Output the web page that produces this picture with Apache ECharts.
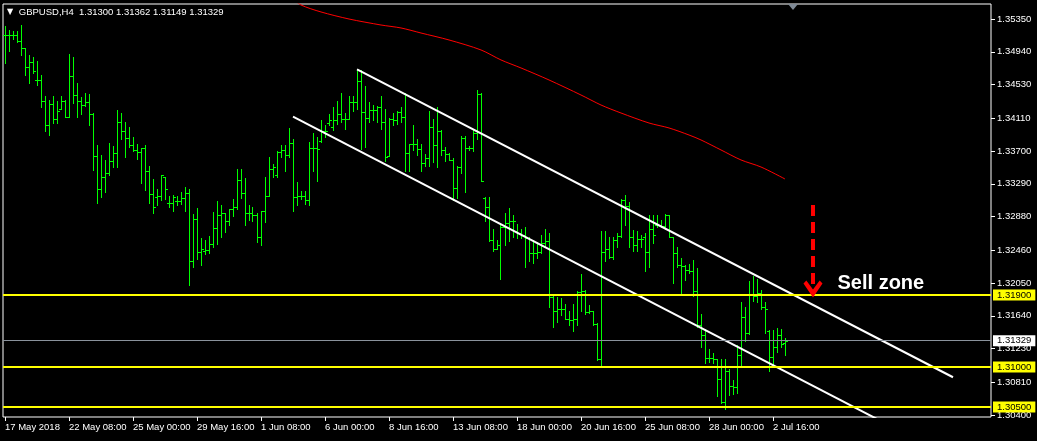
<!DOCTYPE html>
<html>
<head>
<meta charset="utf-8">
<script src="https://cdn.jsdelivr.net/npm/echarts@6/dist/echarts.min.js"></script>
<style>html,body{margin:0;padding:0;background:#000;}#chart{width:1037px;height:441px;}</style>
</head>
<body>
<div id="chart"></div>
<script>
// ---------- DATA ----------
const symbolTitle = 'GBPUSD,H4';
const lastQuote = ['1.31300', '1.31362', '1.31149', '1.31329'];

const barOpen = [
1.35146,1.35146,1.35146,1.35146,1.35071,1.34988,1.34746,1.34813,1.34588,1.34588,
1.34321,1.34021,1.34288,1.34096,1.34229,1.34321,1.34129,1.34638,1.34396,1.34321,
1.34271,1.34313,1.34163,1.33638,1.33221,1.33379,1.33421,1.33579,1.33679,1.34063,
1.33954,1.33863,1.33779,1.33713,1.33688,1.33738,1.33454,1.33163,1.33129,1.33138,
1.33370,1.33046,1.33046,1.33071,1.33071,1.33113,1.33171,1.32321,1.32846,1.32438,
1.32454,1.32463,1.32538,1.32738,1.32896,1.32921,1.32829,1.32971,1.33004,1.33338,
1.33171,1.32921,1.32921,1.32904,1.32621,1.32946,1.33138,1.33479,1.33396,1.33688,
1.33713,1.33654,1.33796,1.33129,1.33138,1.33138,1.33088,1.33738,1.33738,1.33821,
1.33946,1.34046,1.33996,1.34088,1.34163,1.34104,1.34104,1.34313,1.34313,1.34579,
1.34188,1.34113,1.34213,1.34213,1.34246,1.34063,1.33638,1.34096,1.34088,1.34188,
1.34121,1.33671,1.33788,1.33788,1.33721,1.33546,1.33613,1.33996,1.33771,1.33954,
1.33713,1.33663,1.33588,1.33238,1.33496,1.33863,1.33738,1.33738,1.33929,1.34413,
1.33110,1.33004,1.32588,1.32479,1.32521,1.32754,1.32796,1.32829,1.32696,1.32679,
1.32654,1.32613,1.32421,1.32429,1.32438,1.32546,1.32579,1.31871,1.31704,1.31729,
1.31729,1.31604,1.31588,1.31604,1.31938,1.31946,1.31688,1.31704,1.31538,1.31104,
1.32438,1.32471,1.32371,1.32588,1.32638,1.33088,1.33013,1.32629,1.32521,1.32604,
1.32629,1.32438,1.32721,1.32779,1.32779,1.32763,1.32896,1.32621,1.32429,1.32271,
1.32263,1.32213,1.32204,1.31946,1.31529,1.31396,1.31113,1.31113,1.31096,1.30854,
1.30563,1.30946,1.30763,1.30754,1.31154,1.31629,1.31421,1.31913,1.31888,1.31921,
1.31754,1.31446,1.31121,1.31246,1.31404,1.31300
];
const barHigh = [
1.35263,1.35213,1.35196,1.35204,1.35275,1.34988,1.34896,1.34871,1.34821,1.34654,
1.34388,1.34338,1.34388,1.34329,1.34388,1.34338,1.34913,1.34871,1.34554,1.34371,
1.34429,1.34413,1.34171,1.33771,1.33646,1.33588,1.33804,1.33763,1.34213,1.34171,
1.34063,1.34004,1.33871,1.33788,1.33738,1.33771,1.33513,1.33354,1.33229,1.33404,
1.33379,1.33138,1.33146,1.33138,1.33188,1.33254,1.33229,1.32913,1.32988,1.32613,
1.32588,1.32638,1.32938,1.33071,1.33021,1.32929,1.32971,1.33104,1.33479,1.33479,
1.33363,1.33021,1.32996,1.32929,1.32946,1.33379,1.33621,1.33538,1.33704,1.33771,
1.33771,1.33988,1.33854,1.33313,1.33196,1.33196,1.33813,1.33921,1.33871,1.34088,
1.34021,1.34163,1.34246,1.34321,1.34421,1.34179,1.34388,1.34388,1.34721,1.34713,
1.34513,1.34313,1.34271,1.34263,1.34388,1.34221,1.34113,1.34179,1.34204,1.34246,
1.34421,1.33788,1.34021,1.33854,1.33788,1.33663,1.34196,1.34104,1.34246,1.33963,
1.33746,1.33679,1.33613,1.33513,1.33888,1.33888,1.33763,1.33963,1.34463,1.34429,
1.33129,1.33129,1.32729,1.32588,1.32771,1.32929,1.32988,1.32896,1.32788,1.32721,
1.32754,1.32629,1.32588,1.32563,1.32654,1.32721,1.32671,1.31896,1.31871,1.31863,
1.31788,1.31696,1.31788,1.31954,1.32163,1.31963,1.31771,1.31704,1.31546,1.32696,
1.32696,1.32621,1.32621,1.32671,1.33096,1.33146,1.33063,1.32713,1.32704,1.32646,
1.32671,1.32904,1.32904,1.32896,1.32838,1.32913,1.32904,1.32621,1.32496,1.32363,
1.32271,1.32288,1.32338,1.32238,1.31663,1.31471,1.31221,1.31179,1.31096,1.31096,
1.31096,1.30979,1.30838,1.31279,1.31813,1.31754,1.32079,1.32138,1.32096,1.31963,
1.31813,1.31463,1.31463,1.31488,1.31471,1.31362
];
const barLow = [
1.34804,1.34954,1.35096,1.35063,1.34896,1.34654,1.34546,1.34679,1.34521,1.34254,
1.33946,1.33896,1.34046,1.34046,1.34229,1.34129,1.34121,1.34296,1.34129,1.34163,
1.34263,1.34021,1.33463,1.33046,1.33121,1.33188,1.33396,1.33504,1.33504,1.33846,
1.33629,1.33754,1.33704,1.33604,1.33304,1.33213,1.33046,1.32929,1.33021,1.33088,
1.33096,1.32996,1.32954,1.33021,1.33038,1.32954,1.32029,1.32254,1.32346,1.32279,
1.32413,1.32421,1.32496,1.32538,1.32621,1.32688,1.32771,1.32888,1.32971,1.33113,
1.32771,1.32838,1.32821,1.32563,1.32529,1.32813,1.33138,1.33379,1.33379,1.33621,
1.33454,1.33629,1.32946,1.33021,1.33096,1.33038,1.33021,1.33446,1.33329,1.33813,
1.33871,1.34021,1.33963,1.34038,1.34063,1.33979,1.34104,1.34204,1.34229,1.33729,
1.33746,1.34063,1.34088,1.34063,1.33979,1.33571,1.33638,1.34029,1.34038,1.34063,
1.33454,1.33446,1.33713,1.33654,1.33446,1.33513,1.33513,1.33563,1.33496,1.33646,
1.33579,1.33588,1.33088,1.33113,1.33429,1.33188,1.33713,1.33696,1.33846,1.33321,
1.32829,1.32571,1.32446,1.32479,1.32104,1.32529,1.32579,1.32629,1.32613,1.32613,
1.32254,1.32329,1.32296,1.32363,1.32421,1.32504,1.31754,1.31504,1.31563,1.31654,
1.31596,1.31529,1.31446,1.31521,1.31704,1.31663,1.31671,1.31521,1.31088,1.31004,
1.32329,1.32363,1.32346,1.32504,1.32629,1.32771,1.32496,1.32454,1.32454,1.32496,
1.32204,1.32254,1.32554,1.32754,1.32746,1.32729,1.32621,1.32054,1.32246,1.31904,
1.32088,1.32171,1.31888,1.31504,1.31254,1.31054,1.31063,1.31046,1.30638,1.30546,
1.30479,1.30646,1.30663,1.30679,1.31004,1.31329,1.31413,1.31821,1.31813,1.31729,
1.31429,1.30946,1.31038,1.31188,1.31254,1.31149
];
const barClose = [
1.35146,1.35146,1.35146,1.35071,1.34988,1.34746,1.34813,1.34704,1.34588,1.34321,
1.34021,1.34288,1.34096,1.34204,1.34321,1.34129,1.34638,1.34396,1.34321,1.34271,
1.34313,1.34163,1.33638,1.33221,1.33379,1.33421,1.33579,1.33679,1.34063,1.33954,
1.33863,1.33779,1.33713,1.33688,1.33738,1.33454,1.33163,1.33004,1.33138,1.33396,
1.33221,1.33046,1.33121,1.33071,1.33113,1.33171,1.32321,1.32846,1.32438,1.32479,
1.32463,1.32538,1.32738,1.32896,1.32921,1.32829,1.32971,1.33004,1.33338,1.33171,
1.32921,1.32921,1.32904,1.32621,1.32946,1.33138,1.33479,1.33504,1.33688,1.33713,
1.33654,1.33796,1.33129,1.33138,1.33138,1.33088,1.33738,1.33738,1.33729,1.33946,
1.33946,1.34088,1.34088,1.34163,1.34104,1.34104,1.34313,1.34313,1.34579,1.34188,
1.34113,1.34213,1.34213,1.34246,1.34063,1.33629,1.34096,1.34088,1.34188,1.34121,
1.33671,1.33788,1.33788,1.33721,1.33546,1.33613,1.33996,1.33771,1.33954,1.33713,
1.33663,1.33588,1.33238,1.33496,1.33863,1.33738,1.33738,1.33929,1.34413,1.33329,
1.33004,1.32588,1.32479,1.32521,1.32754,1.32796,1.32829,1.32829,1.32679,1.32654,
1.32613,1.32421,1.32429,1.32438,1.32546,1.32579,1.31871,1.31704,1.31729,1.31729,
1.31604,1.31588,1.31604,1.31938,1.31946,1.31688,1.31704,1.31538,1.31104,1.32438,
1.32471,1.32371,1.32588,1.32638,1.33088,1.33013,1.32629,1.32521,1.32604,1.32604,
1.32438,1.32721,1.32654,1.32779,1.32763,1.32896,1.32621,1.32429,1.32271,1.32263,
1.32213,1.32204,1.31946,1.31529,1.31396,1.31113,1.31113,1.31104,1.30854,1.30563,
1.30946,1.30763,1.30754,1.31154,1.31629,1.31421,1.31913,1.31888,1.31921,1.31754,
1.31721,1.31121,1.31246,1.31404,1.31288,1.31329
];

// moving average (red), read at sample bars: [bar index, price]
const maPoints = [
[72,1.35600],[74,1.35525],[79,1.35438],[86,1.35350],[94,1.35275],[99,1.35238],
[104,1.35175],[111,1.35088],[119,1.34963],[124,1.34838],[129,1.34738],[136,1.34588],
[144,1.34400],[149,1.34275],[154,1.34175],[161,1.34050],[166,1.33988],[171,1.33900],
[174,1.33838],[179,1.33713],[184,1.33588],[189,1.33500],[195,1.33350]
];

// trend channel lines: [bar index, price]
const channelUpper = [[88,1.34721],[237,1.30872]];
const channelLower = [[72,1.34129],[218,1.30350]];

// horizontal levels and current bid
const levelPrices = [1.31900, 1.31000, 1.30500];
const currentPrice = 1.31329;

// annotation: sell arrow and text
const sellArrow = [[202,1.33025],[202,1.31975]];
const sellText = {label: 'Sell zone', at: [208, 1.32050]};

// axes
const yTickValues = [1.35350,1.34940,1.34530,1.34110,1.33700,1.33290,1.32880,1.32460,1.32050,1.31640,1.31230,1.30810,1.30400];
const xTickLabels = ['17 May 2018','22 May 08:00','25 May 00:00','29 May 16:00','1 Jun 08:00','6 Jun 00:00','8 Jun 16:00','13 Jun 08:00','18 Jun 00:00','20 Jun 16:00','25 Jun 08:00','28 Jun 00:00','2 Jul 16:00'];

// ---------- CATEGORIES (H4 trading sessions, weekdays only) ----------
const MONTHS = ['Jan','Feb','Mar','Apr','May','Jun','Jul','Aug','Sep','Oct','Nov','Dec'];
const SLOT_COUNT = 247;
const categories = [];
{
  let t = Date.UTC(2018, 4, 17, 16);
  while (categories.length < SLOT_COUNT) {
    const d = new Date(t);
    const wd = d.getUTCDay();
    if (wd !== 0 && wd !== 6) {
      const hh = String(d.getUTCHours()).padStart(2, '0');
      categories.push(d.getUTCDate() + ' ' + MONTHS[d.getUTCMonth()] + ' ' + hh + ':00');
    }
    t += 4 * 3600e3;
  }
}
const tickLabelAt = {0: xTickLabels[0]};
xTickLabels.slice(1).forEach(l => { const k = categories.indexOf(l); if (k >= 0) tickLabelAt[k] = l; });
const showTick = (idx) => Object.prototype.hasOwnProperty.call(tickLabelAt, idx);

const bars = barOpen.map((o, i) => [i, o, barHigh[i], barLow[i], barClose[i]]);

const FONT = 'Liberation Sans';
const FS = 9.5;
const BAR_COLOR = '#00ff00';

const levelLabel = (txt, bg) => ({
  show: true, position: 'end', distance: 2, formatter: txt,
  backgroundColor: bg, color: '#000', fontFamily: FONT, fontSize: FS,
  padding: [1, 4, 0, 4], lineHeight: 10
});

const chart = echarts.init(document.getElementById('chart'), null, {renderer: 'canvas'});
chart.setOption({
  backgroundColor: '#000',
  animation: false,
  title: {
    text: '{tri|▼} ' + symbolTitle + '  ' + lastQuote.join(' '),
    left: 7, top: 6, padding: 0,
    textStyle: {
      color: '#fff', fontFamily: FONT, fontSize: FS, fontWeight: 'normal', lineHeight: 12,
      rich: {tri: {color: '#fff', fontSize: 8, fontFamily: 'DejaVu Sans', padding: [0, 3, 0, 0]}}
    }
  },
  graphic: [
    {type: 'polygon', shape: {points: [[788, 4], [798, 4], [793, 10]]}, style: {fill: '#7f8a96'}, z: 100}
  ],
  grid: {left: 3, right: 46, top: 4, bottom: 24, show: true, borderColor: '#ffffff', borderWidth: 1, backgroundColor: '#000'},
  xAxis: {
    type: 'category', data: categories, boundaryGap: true,
    axisLine: {show: false},
    axisTick: {show: true, interval: showTick, alignWithLabel: true, length: 4, lineStyle: {color: '#fff'}},
    axisLabel: {
      interval: showTick, formatter: (v, idx) => tickLabelAt[idx] || '',
      align: 'left', color: '#fff', fontFamily: FONT, fontSize: FS, margin: 5
    },
    splitLine: {show: false}
  },
  yAxis: {
    type: 'value', position: 'right', min: 1.30375, max: 1.355375, scale: true,
    axisLine: {show: false},
    splitLine: {show: false},
    axisTick: {show: true, customValues: yTickValues, length: 4, lineStyle: {color: '#fff'}},
    axisLabel: {customValues: yTickValues, formatter: v => v.toFixed(5), color: '#fff', fontFamily: FONT, fontSize: FS, margin: 6}
  },
  series: [
    {
      type: 'custom', name: 'bars', z: 2,
      encode: {x: 0, y: [1, 2, 3, 4]},
      data: bars,
      renderItem: function (params, api) {
        const i = api.value(0);
        const pO = api.coord([i, api.value(1)]);
        const pH = api.coord([i, api.value(2)]);
        const pL = api.coord([i, api.value(3)]);
        const pC = api.coord([i, api.value(4)]);
        const x = Math.floor(pH[0]) + 0.5;
        const yH = Math.round(pH[1]), yL = Math.round(pL[1]);
        const yO = Math.round(pO[1]) + 0.5, yC = Math.round(pC[1]) + 0.5;
        const style = {stroke: BAR_COLOR, lineWidth: 1, fill: null};
        return {type: 'group', children: [
          {type: 'line', shape: {x1: x, y1: yH, x2: x, y2: yL + 1}, style: style},
          {type: 'line', shape: {x1: x - 2.5, y1: yO, x2: x - 0.5, y2: yO}, style: style},
          {type: 'line', shape: {x1: x + 0.5, y1: yC, x2: x + 2.5, y2: yC}, style: style}
        ]};
      }
    },
    {
      type: 'line', name: 'MA', z: 3, data: maPoints, showSymbol: false, symbol: 'none',
      lineStyle: {color: '#ff0000', width: 1}, smooth: 0.3, clip: true,
      markLine: {
        silent: true, symbol: ['none', 'none'], animation: false, precision: 5,
        data: [
          ...levelPrices.map(p => ({yAxis: p, lineStyle: {color: '#ffff00', width: 2, type: 'solid'}, label: levelLabel(p.toFixed(5), '#ffff00')})),
          {yAxis: currentPrice, lineStyle: {color: '#8a929c', width: 1, type: 'solid'}, label: levelLabel(currentPrice.toFixed(5), '#ffffff')},
          [
            {coord: sellArrow[0], symbol: 'none', lineStyle: {color: '#ff0000', width: 4, type: [11, 6]}, label: {show: false}},
            {coord: sellArrow[1], symbol: 'path://M10,0 L20,14 L17,17 L10,8 L3,17 L0,14 Z', symbolSize: [19, 17]}
          ]
        ]
      },
      markPoint: {
        silent: true, animation: false,
        data: [{
          coord: sellText.at, symbol: 'circle', symbolSize: 1, itemStyle: {color: 'rgba(0,0,0,0)'},
          label: {show: true, position: 'right', distance: 0, formatter: sellText.label, color: '#fff', fontFamily: FONT, fontWeight: 'bold', fontSize: 20}
        }]
      }
    },
    {
      type: 'line', name: 'channelUpper', z: 4, data: channelUpper, symbol: 'none', clip: true,
      lineStyle: {color: '#ffffff', width: 2}
    },
    {
      type: 'line', name: 'channelLower', z: 4, data: channelLower, symbol: 'none', clip: true,
      lineStyle: {color: '#ffffff', width: 2}
    }
  ]
});
</script>
</body>
</html>
